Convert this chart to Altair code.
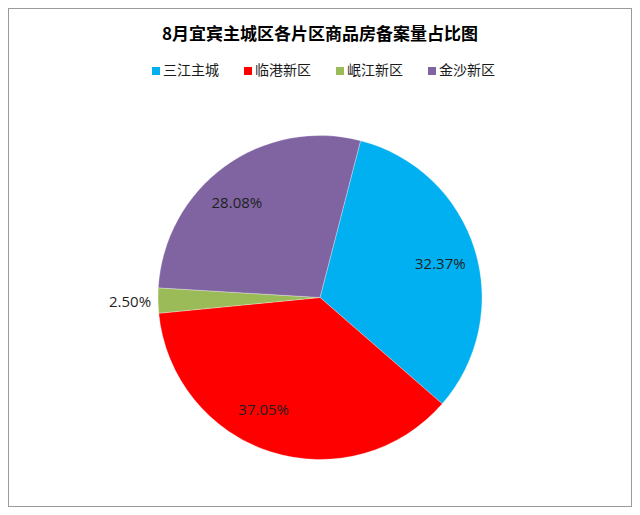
import math
import altair as alt
import pandas as pd

# ---- data ----
categories = ["三江主城", "临港新区", "岷江新区", "金沙新区"]
shares = [32.37, 37.05, 2.50, 28.08]
colors = ["#00B0F0", "#FF0000", "#9BBB59", "#8064A2"]
title_text = "8月宜宾主城区各片区商品房备案量占比图"

df = pd.DataFrame({
    "region": categories,
    "share": shares,
    "idx": list(range(len(categories))),
})

W, H = 624, 499
CX, CY = 312, 289.5
R = 162
start = math.radians(14.5)

theta_scale = alt.Scale(type="linear", range=[start, start + 2 * math.pi])

base = alt.Chart(df).transform_calculate(
    pct="datum.share / 100"
).encode(
    theta=alt.Theta("share:Q", stack=True, scale=theta_scale),
    order=alt.Order("idx:Q", sort="ascending"),
    x=alt.value(CX),
    y=alt.value(CY),
)

arc = base.mark_arc(outerRadius=R, stroke="white", strokeWidth=0.3).encode(
    color=alt.Color(
        "region:N",
        scale=alt.Scale(domain=categories, range=colors),
        sort=categories,
        legend=alt.Legend(
            title=None,
            orient="none",
            legendX=141,
            legendY=56,
            direction="horizontal",
            symbolType="square",
            symbolSize=64,
            symbolStrokeWidth=0,
            labelFont="Noto Sans CJK SC",
            labelFontSize=14,
            labelColor="#1a1a1a",
            labelOffset=0,
            columnPadding=22,
        ),
    )
)

def label_layer(cat, radius, dx, dy, align="center"):
    return base.mark_text(
        radius=radius,
        dx=dx,
        dy=dy,
        font="Open Sans",
        fontSize=15,
        color="#1f1f1f",
        align=align,
        baseline="middle",
    ).encode(
        text=alt.condition(
            alt.datum.region == cat,
            alt.Text("pct:Q", format=".2%"),
            alt.value(""),
        )
    )

labels = [
    label_layer("三江主城", 126, 0, 4),
    label_layer("临港新区", 126, -18, -8),
    label_layer("岷江新区", 190, 0, 1),
    label_layer("金沙新区", 126, -9, 7),
]

chart = alt.layer(arc, *labels).properties(
    width=W,
    height=H,
    autosize=alt.AutoSizeParams(type="none"),
    padding=0,
    title=alt.Title(
        title_text,
        font="Noto Sans CJK SC",
        fontSize=17,
        fontWeight="bold",
        color="#000000",
        anchor="middle",
        offset=0,
        baseline="middle",
        dy=44,
    ),
).configure_view(stroke="#9a9a9a", strokeWidth=2)

chart.save("out.html", embed_options={"renderer": "svg", "actions": False})
